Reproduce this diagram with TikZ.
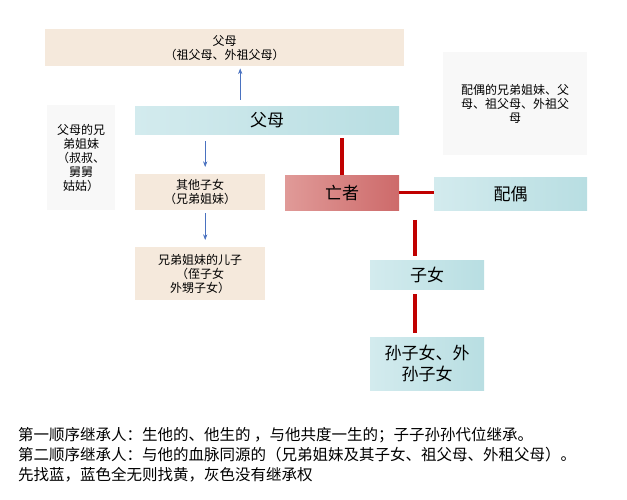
\documentclass[tikz,border=0pt]{standalone}
\usepackage{fontspec}
\setmainfont{Noto Sans CJK SC}
\usetikzlibrary{arrows.meta,positioning}
\definecolor{tan}{HTML}{F5E9DC}
\definecolor{lblue}{HTML}{D3EBEE}
\definecolor{dblue}{HTML}{B8DEE2}
\definecolor{dead}{HTML}{E09A98}
\definecolor{deadr}{HTML}{CD6A6A}
\definecolor{ashes}{HTML}{F8F8F8}
\definecolor{link}{HTML}{C00000}
\definecolor{arr}{HTML}{4A72C0}
\begin{document}
\begin{tikzpicture}[x=1pt,y=-1pt,
    box/.style={rectangle, inner sep=0pt, anchor=north west, align=center, font=\fontsize{12}{14}\selectfont},
    beige/.style={box, fill=tan},
    blue/.style={box, left color=lblue, right color=dblue},
    grey/.style={box, fill=ashes},
    arrow/.style={-{Stealth[length=2mm]}, arr, semithick},
    tie/.style={link, line width=3.5pt}
]
  \useasboundingbox (0,0) rectangle (627,500);

  % Grandparents
  \node[beige, minimum width=359pt, minimum height=37pt] (gp) at (45,29) {父母\\（祖父母、外祖父母）};

  % Parents
  \node[blue, minimum width=264pt, minimum height=28pt, font=\fontsize{17}{19}\selectfont] (par) at (135,106) {父母};

  % Uncles and aunts
  \node[grey, minimum width=68pt, minimum height=105pt] (unc) at (47,105) {父母的兄\\弟姐妹\\（叔叔、\\舅舅\\姑姑）};

  % Spouse's relatives
  \node[grey, minimum width=144pt, minimum height=103pt] (inl) at (443,52) {配偶的兄弟姐妹、父\\母、祖父母、外祖父\\母};

  % Siblings
  \node[beige, minimum width=130pt, minimum height=36pt] (sib) at (135,174) {其他子女\\（兄弟姐妹）};

  % Deceased
  \node[box, left color=dead, right color=deadr, minimum width=114pt, minimum height=35pt, font=\fontsize{17}{19}\selectfont] (dec) at (285,175) {亡者};

  % Spouse
  \node[blue, minimum width=153pt, minimum height=33pt, font=\fontsize{17}{19}\selectfont] (spo) at (434,177) {配偶};

  % Nephews
  \node[beige, minimum width=130pt, minimum height=53pt] (nep) at (135,247) {兄弟姐妹的儿子\\（侄子女\\外甥子女）};

  % Children
  \node[blue, minimum width=114pt, minimum height=29pt, font=\fontsize{17}{19}\selectfont] (kid) at (370,260) {子女};

  % Grandchildren
  \node[blue, minimum width=114pt, minimum height=53pt, font=\fontsize{17}{21}\selectfont] (gk) at (370,337) {孙子女、外\\孙子女};

  % Arrows
  \draw[arrow] ([xshift=15.5pt,yshift=6pt]par.north -| gp.south) -- ([xshift=15.5pt,yshift=-2pt]gp.south);
  \draw[arrow] ([xshift=5pt,yshift=-7pt]sib.north |- par.south) -- ([xshift=5pt,yshift=7pt]sib.north);
  \draw[arrow] ([xshift=5pt,yshift=-3pt]sib.south) -- ([xshift=5pt,yshift=7pt]nep.north);

  % Ties
  \draw[tie] ([yshift=-4pt]dec.north |- par.south) -- (dec.north);
  \draw[tie] (dec.east) -- (dec.east -| spo.west);
  \draw[tie] ([xshift=-12pt,yshift=40pt]kid.north) -- ([xshift=-12pt,yshift=4pt]kid.north);
  \draw[tie] ([xshift=-12pt,yshift=-5pt]kid.south) -- ([xshift=-12pt,yshift=4pt]gk.north);

  % Notes
  \node[anchor=north west, align=left, inner sep=0pt, font=\fontsize{15.5}{20}\selectfont] (note) at (18,427)
    {第一顺序继承人：生他的、他生的 ，与他共度一生的；子子孙孙代位继承。\\
     第二顺序继承人：与他的血脉同源的（兄弟姐妹及其子女、祖父母、外租父母）。\\
     先找蓝，蓝色全无则找黄，灰色没有继承权};
\end{tikzpicture}
\end{document}
